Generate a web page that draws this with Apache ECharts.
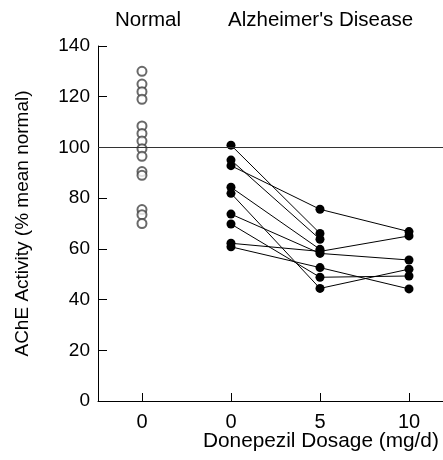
<!DOCTYPE html>
<html>
<head>
<meta charset="utf-8">
<script src="https://cdn.jsdelivr.net/npm/echarts@6/dist/echarts.min.js"></script>
<style>html,body{margin:0;padding:0;background:#fff}#c{width:443px;height:460px}</style>
</head>
<body>
<div id="c"></div>
<script>
// Category slots on the x axis: Normal (0), AD dose 0, dose 5, dose 10
const xTickLabels = ['0', '0', '5', '10'];
const adDoses = [1, 2, 3];            // slot index for 0, 5, 10 mg/d
const yTicks = [0, 20, 40, 60, 80, 100, 120, 140];

// Normal subjects (% mean normal)
const normalValues = [130, 125, 122, 119, 108.5, 105.5, 102.5, 99.5, 96.5, 90.5, 89, 75.5, 73.5, 70];

// Alzheimer's subjects: values at 0, 5, 10 mg/d (null = not measured)
const subjA = [100.9, 66.1, null];
const subjB = [95.0, 63.8, null];
const subjC = [92.8, 75.6, 66.8];
const subjD = [84.3, 59.8, null];
const subjE = [81.9, 44.4, 52.0];
const subjF = [73.7, 58.2, 55.6];
const subjG = [69.8, 48.8, 49.3];
const subjH = [62.2, 59.0, 65.1];
const subjI = [60.8, 52.6, 44.2];
const adSubjects = [subjA, subjB, subjC, subjD, subjE, subjF, subjG, subjH, subjI];

const FONT = "'Liberation Sans', Arial, Helvetica, sans-serif";

const chart = echarts.init(document.getElementById('c'), null, {renderer: 'canvas'});

const series = [{
  type: 'scatter',
  data: normalValues.map(v => [0, v]),
  symbol: 'emptyCircle',
  symbolSize: 9,
  itemStyle: {color: '#444', borderColor: '#444', borderWidth: 0.9},
  markLine: {
    silent: true,
    symbol: ['none', 'none'],
    label: {show: false},
    lineStyle: {color: '#333', width: 1, type: 'solid'},
    data: [{yAxis: 100}]
  },
  z: 3
}];
adSubjects.forEach(s => {
  const pts = [];
  s.forEach((v, i) => { if (v !== null) pts.push([adDoses[i], v]); });
  series.push({
    type: 'line',
    data: pts,
    symbol: 'circle',
    symbolSize: 9,
    showSymbol: true,
    itemStyle: {color: '#000'},
    lineStyle: {color: '#000', width: 1},
    z: 4
  });
});

chart.setOption({
  animation: false,
  backgroundColor: '#fff',
  grid: {left: 98, right: 0, top: 46, bottom: 59},
  xAxis: {
    type: 'value',
    min: -0.494,
    max: 3.382,
    axisLine: {show: true, onZero: false, lineStyle: {color: '#000', width: 1}},
    axisTick: {show: true, inside: true, length: 8, lineStyle: {color: '#000'}, customValues: [0, 1, 2, 3]},
    axisLabel: {
      customValues: [0, 1, 2, 3],
      formatter: v => xTickLabels[Math.round(v)],
      color: '#000', fontSize: 20, fontFamily: FONT, margin: 11
    },
    splitLine: {show: false}
  },
  yAxis: {
    type: 'value',
    min: 0, max: 140, interval: 20,
    name: 'AChE Activity (% mean normal)',
    nameLocation: 'middle',
    nameGap: 66,
    nameTextStyle: {color: '#000', fontSize: 19, fontFamily: FONT},
    axisLine: {show: true, onZero: false, lineStyle: {color: '#000', width: 1}},
    axisTick: {show: true, inside: true, length: 9, lineStyle: {color: '#000'}},
    axisLabel: {color: '#000', fontSize: 19, fontFamily: FONT, margin: 8,
      formatter: v => yTicks.includes(v) ? String(v) : ''},
    splitLine: {show: false}
  },
  graphic: [
    {type: 'text', left: 115, top: 10, style: {text: 'Normal', fill: '#000', font: '20.5px ' + FONT}},
    {type: 'text', left: 228, top: 10, style: {text: "Alzheimer's Disease", fill: '#000', font: '20.5px ' + FONT}},
    {type: 'text', left: 203, top: 431, style: {text: 'Donepezil Dosage (mg/d)', fill: '#000', font: '20.8px ' + FONT}}
  ],
  series: series
});
</script>
</body>
</html>
